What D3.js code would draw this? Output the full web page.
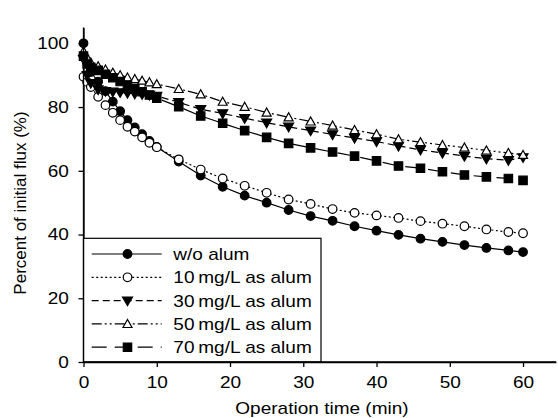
<!DOCTYPE html>
<html>
<head>
<meta charset="utf-8">
<script src="https://cdn.jsdelivr.net/npm/d3@7"></script>
<style>
  body { margin: 0; background: #fff; }
  text { font-family: "Liberation Sans", Arial, sans-serif; fill: #000; }
</style>
</head>
<body>
<svg id="chart" width="558" height="418"></svg>
<script>
// operation time (min)
var times = [0, 0.5, 1, 2, 3, 4, 5, 6, 7, 8, 9, 10, 13, 16, 19, 22, 25, 28, 31, 34, 37, 40, 43, 46, 49, 52, 55, 58, 60];

// percent of initial flux (%)
var noAlum = [100, 94, 91, 88, 85, 81.7, 78.7, 75.9, 73.6, 71.5, 69.4, 67.5, 62.9, 58.5, 55.0, 52.2, 50.0, 47.7, 45.8, 44.3, 42.6, 41.2, 39.9, 38.7, 37.7, 36.7, 35.8, 35.0, 34.5];
var alum10 = [89.5, 87.9, 86.3, 83.2, 80.6, 78.2, 75.9, 73.8, 72.3, 70.5, 68.8, 67.4, 63.6, 60.4, 57.6, 55.3, 53.1, 51.0, 49.6, 48.0, 46.8, 46.0, 45.2, 44.2, 43.4, 42.6, 41.6, 40.8, 40.4];
var alum30 = [95, 90, 87.5, 85.5, 85.0, 84.8, 84.6, 84.4, 84.2, 84.0, 83.8, 83.5, 81.5, 79.3, 78.0, 76.5, 75.1, 73.8, 72.6, 71.4, 70.3, 69.2, 67.8, 66.6, 65.6, 64.6, 63.8, 63.3, 64.2];
var alum50 = [97.5, 95.5, 94, 92.8, 91.8, 90.8, 90.0, 89.3, 88.8, 88.3, 87.8, 87.2, 85.7, 84.0, 81.7, 80.1, 78.3, 76.8, 75.5, 74.2, 72.8, 71.5, 69.9, 69.0, 68.1, 67.3, 66.4, 65.6, 65.0];
var alum70 = [96, 93.5, 92.5, 91.5, 90.3, 89.2, 88.0, 86.9, 85.8, 84.8, 83.8, 82.8, 80.1, 77.2, 74.9, 72.6, 70.5, 68.6, 67.2, 65.9, 64.6, 63.1, 61.5, 60.8, 59.7, 58.7, 58.1, 57.6, 57.0];

var seriesNames = ["w/o alum", "10\u2009mg/L as alum", "30\u2009mg/L as alum", "50\u2009mg/L as alum", "70\u2009mg/L as alum"];
var xTicks = [0, 10, 20, 30, 40, 50, 60];
var yTicks = [0, 20, 40, 60, 80, 100];

var series = [
  { name: seriesNames[0], values: noAlum, marker: "circle",   fill: "#000", dash: null },
  { name: seriesNames[1], values: alum10, marker: "circle",   fill: "#fff", dash: "2,2.5" },
  { name: seriesNames[2], values: alum30, marker: "triDown",  fill: "#000", dash: "7,4" },
  { name: seriesNames[3], values: alum50, marker: "triUp",    fill: "#fff", dash: "10,3,2,3,2,3" },
  { name: seriesNames[4], values: alum70, marker: "square",   fill: "#000", dash: "15,8" }
];

var sx = 1.12; // glyphs in the picture are a bit wider than tall
var svg = d3.select("#chart");

var x = d3.scaleLinear().domain([0, 64.5]).range([83.5, 556]);
var y = d3.scaleLinear().domain([0, 105]).range([362, 27.4]);

function markerPath(kind){
  if(kind == "triDown") return "M-5,-3.6L5,-3.6L0,5Z";
  if(kind == "triUp") return "M-4.5,3.6L4.5,3.6L0,-4.5Z";
  if(kind == "square") return "M-4.2,-4.2H4.2V4.2H-4.2Z";
  return d3.symbol().type(d3.symbolCircle).size(Math.PI*4.3*4.3)();
}

// axes
var xAxis = svg.append("g")
    .attr("transform","translate(0,362)")
    .call(d3.axisBottom(x).tickValues(xTicks).tickSize(5).tickPadding(9).tickSizeOuter(0));
var yAxis = svg.append("g")
    .attr("transform","translate(83.5,0)")
    .call(d3.axisLeft(y).tickValues(yTicks).tickSize(5).tickPadding(9).tickSizeOuter(0));

[xAxis, yAxis].forEach(function(a){
  a.select(".domain").attr("stroke","#000").attr("stroke-width",1.3);
  a.selectAll(".tick line").attr("stroke","#000").attr("stroke-width",1.3);
  a.selectAll(".tick text")
      .attr("font-size","17px")
      .attr("font-family","Liberation Sans, Arial, sans-serif")
      .attr("fill","#000")
      .attr("transform","scale(" + sx + ",1)");
});
yAxis.selectAll(".tick text").attr("x",-13);

svg.append("text")
    .attr("transform","translate(322,414) scale(" + sx + ",1)")
    .attr("text-anchor","middle")
    .attr("font-size","17px")
    .text("Operation time (min)");

svg.append("text")
    .attr("transform","translate(26,203) rotate(-90)")
    .attr("text-anchor","middle")
    .attr("font-size","17px")
    .text("Percent of initial flux (%)");

// lines + markers
var line = d3.line()
    .x(function(d){ return x(d.t); })
    .y(function(d){ return y(d.v); });

series.forEach(function(s){
  var pts = times.map(function(t, i){ return { t: t, v: s.values[i] }; });
  svg.append("path")
      .datum(pts)
      .attr("d", line)
      .attr("fill","none")
      .attr("stroke","#000")
      .attr("stroke-width",1.2)
      .attr("stroke-dasharray", s.dash);
  svg.append("g").selectAll("path")
      .data(pts)
      .enter()
      .append("path")
      .attr("d", markerPath(s.marker))
      .attr("transform", function(d){ return "translate(" + x(d.t) + "," + y(d.v) + ")"; })
      .attr("fill", s.fill)
      .attr("stroke","#000")
      .attr("stroke-width",1.2);
});

// legend
var legend = svg.append("g");
legend.append("rect")
    .attr("x",83.5).attr("y",238.3)
    .attr("width",237.5).attr("height",123.7)
    .attr("fill","#fff")
    .attr("stroke","#000")
    .attr("stroke-width",1.2);

series.forEach(function(s, i){
  var ly = 254 + i*23.3;
  legend.append("line")
      .attr("x1",91.7).attr("x2",161.7)
      .attr("y1",ly).attr("y2",ly)
      .attr("stroke","#000")
      .attr("stroke-width",1.2)
      .attr("stroke-dasharray", s.dash);
  legend.append("path")
      .attr("d", markerPath(s.marker))
      .attr("transform","translate(127.5," + ly + ")")
      .attr("fill", s.fill)
      .attr("stroke","#000")
      .attr("stroke-width",1.2);
  legend.append("text")
      .attr("transform","translate(173.3," + ly + ") scale(" + sx + ",1)")
      .attr("dy","0.36em")
      .attr("font-size","17px")
      .text(s.name);
});

// axis lines on top of legend box
svg.append("line").attr("x1",83.5).attr("x2",83.5).attr("y1",27.4).attr("y2",362)
    .attr("stroke","#000").attr("stroke-width",1.3);
svg.append("line").attr("x1",83.5).attr("x2",556).attr("y1",362).attr("y2",362)
    .attr("stroke","#000").attr("stroke-width",1.3);
</script>
</body>
</html>
